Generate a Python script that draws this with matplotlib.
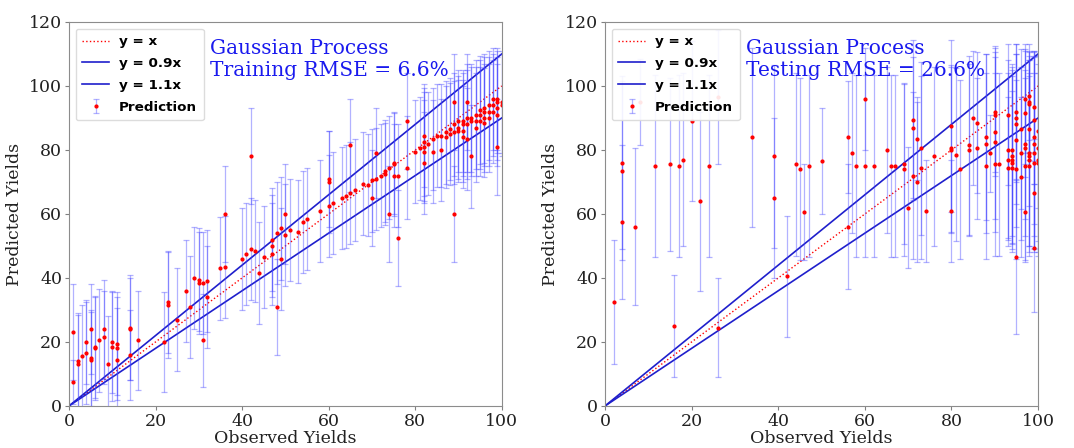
import matplotlib
matplotlib.use("Agg")
import matplotlib.pyplot as plt
import numpy as np

# ---------------- data (one line per observed-yield group) ----------------
train_x = [1, 1,  2, 2,  3,  4, 4,  5, 5, 5,  6, 6,  7,  8, 8,  9,  10, 10,
           11, 11, 11,  14, 14, 14,  16,  22,  23, 23,  25,  27,  28,  29,
           30, 30,  31, 31,  32, 32,  35,  36, 36,  40,  41,  42, 42,  43,  44,
           45,  47, 47, 47,  48, 48,  49, 49,  50, 50,  51,  53,  54,  55,  58,
           60, 60, 60,  61,  63,  64,  65, 65,  66,  68,  69,  70, 70,  71, 71,
           72,  73, 73,  74, 74,  75, 75, 75,  76, 76,  78, 78,  80,  81,
           82, 82, 82, 82, 82,  83,  84, 84,  85,  86, 86,  87, 87,  88, 88,
           89, 89, 89, 89,  90, 90, 90,  91, 91, 91, 91,  92, 92, 92, 92,
           93, 93, 93,  94, 94, 94,  95, 95, 95,  96, 96, 96, 96,  97, 97, 97,
           98, 98, 98,  99, 99, 99, 99, 99,  100, 100]
train_y = [23, 7.5,  14, 13,  15.5,  20, 16.5,  24, 15, 14.5,  18.5, 18,  20.5,
           24, 21.5,  13,  20, 18.5,
           19.5, 18, 14.5,  24.5, 24, 16,  20.5,  20,  32.5, 31.5,  27,  36,  31,
           40,
           39.5, 38.5,  38.5, 20.5,  39, 34,  43,  60, 43.5,  46,  47.5,  78, 49,
           48.5,  41.5,
           46.5,  52, 50, 47.5,  54, 31,  55.5, 46,  60, 53.5,  55,  54.5,  57.5,
           58.5,  61,
           71, 70, 62.5,  63.5,  65,  65.5,  81.5, 66.5,  67.5,  69.5,  69,
           70.5, 65,  79, 71,
           72,  73.5, 72.5,  74.5, 60,  76, 75.5, 72,  72, 52.5,  89, 74.5,
           79.5,  80.5,
           84.5, 82.5, 81, 79.5, 76,  82,  83.5, 79.5,  84.5,  84.5, 80,
           85.5, 84,  86.5, 85,
           95, 88, 85.5, 60,  89, 87, 86,  89, 88, 86, 84,  95, 90, 88, 83.5,
           90, 89, 78,  91, 89, 87,  92.5, 91, 89,  93, 92, 90, 88.5,  94, 92, 90,
           96, 94, 92,  96, 95, 93, 91, 81,  95, 94]
train_err = [15, 7,  15, 15.5,  16,  13, 16,  14, 15, 15,  16, 16,  16,
             15.5, 14.5,  15,  16, 17,
             16, 16, 16,  16.5, 16, 14,  15.5,  15.5,  16, 16.5,  16,  16,  16,
             16,
             16, 16,  16, 14.5,  16, 16,  16,  15, 16,  16,  16,  15, 16,
             16,  16,
             16,  16, 16, 16,  16, 15,  16, 16,  15.5, 16,  16,  16,  16,
             16,  16,
             15, 16, 16,  16,  16,  16,  14.5, 16,  16,  16,  16,
             16, 15,  14, 16,
             16,  16, 16,  16, 15,  16, 16, 16,  16, 15,  15, 16,
             16,  16,
             16, 17, 17, 16, 16,  16,  16, 16,  16,  16, 16,
             16, 16,  16, 16,
             15, 16, 16, 15,  16, 16, 16,  16, 16, 16, 16,  15, 17, 17, 16,
             17, 17, 16,  17, 17, 17,  17, 17, 17,  17, 17, 17, 17,  17, 17, 17,
             16, 16, 16,  16, 16, 16, 16, 15,  16, 16]

test_x = [2,  4, 4, 4,  7,  8,  11.5,  15,  16,  17,  18,  20,  22,  24,
          26, 26,  34,  39, 39,  42,  44,  45,  46,  47,  50,  56, 56,  57,  58,
          60, 60,  62,  65,  66,  67,  69, 69,  70,  71, 71, 71,  72, 72,
          73, 73,  74,  76,  80, 80, 80, 80,  81,  82,  84, 84,  85,  86, 86,
          88, 88, 88,  89,  90, 90, 90, 90, 90,  91,  93, 93, 93, 93,
          94, 94, 94, 94, 94,  95, 95, 95, 95, 95, 95,  96, 96, 96,
          97, 97, 97, 97, 97, 97,  98, 98, 98, 98, 98, 98, 98, 98,
          99, 99, 99, 99, 99, 99, 99, 99,  100, 100, 100, 100]
test_y = [32.5,  76, 73.5, 57.5,  56,  95,  75,  75.5,  25,  75,  77,  89,  64,
          75,
          96.5, 24.5,  84,  78, 65,  40.5,  75.5,  74,  60.5,  75,  76.5,
          84, 56,  79,  75,
          96, 75,  75,  80,  75,  75,  75.5, 74,  62,  89.5, 87, 72,  83.5, 70,
          80.5, 74.5,  61,  78,  87.5, 80.5, 80, 61,  78.5,  74,  81.5, 80,  90,
          88.5, 80.5,
          84, 82, 75,  79,  92, 91, 85.5, 82.5, 75.5,  75.5,  91, 80, 77, 74.5,
          80, 78, 77, 76, 74.5,  92, 90, 88, 83, 74, 46.5,  86.5, 79, 71.5,
          96, 91.5, 82, 80.5, 75, 60.5,  97, 95, 94.5, 86.5, 79, 78, 77, 75,
          93.5, 89.5, 84, 82, 79, 76, 66.5, 49.5,  86, 80.5, 77, 76]
test_err = [19.5,  27, 28, 24,  24.5,  13.5,  28.5,  27,  16,  28.5,  27,  25,
            28,  28.5,
            21, 15.5,  28,  28.5, 25,  19,  28.5,  28.5,  15,  28.5,  16.5,
            17.5, 19.5,  25,  28.5,
            16, 28.5,  28.5,  26,  28.5,  28.5,  25, 27,  19,  25, 22, 26,  13, 25,
            27, 28.5,  16,  28,  27, 26, 26, 16,  27,  28,  28, 27,  21,
            22, 22,
            26, 28, 29,  12,  20, 18, 27, 28, 28.5,  28.5,  22, 28, 27, 22,
            27, 27, 29, 27, 24,  21, 20, 25, 27, 28, 24,  25, 27, 25,
            17, 20, 29, 22, 30, 15,  14, 18, 15, 24, 29, 30, 27, 28,
            17, 20, 27, 29, 30, 28, 17, 20,  24, 29, 30, 28]

ref_line_x = [0, 100]
panels = [
    ("Training RMSE = 6.6%", train_x, train_y, train_err),
    ("Testing RMSE = 26.6%", test_x, test_y, test_err),
]

# ---------------- figure ----------------
fig = plt.figure(figsize=(10.74, 4.48), dpi=100)
axes_pos = [[0.0642, 0.0938, 0.4030, 0.8572],
            [0.5633, 0.0938, 0.4033, 0.8572]]

for pos, (label, xs, ys, errs) in zip(axes_pos, panels):
    n = min(len(xs), len(ys), len(errs))
    ax = fig.add_axes(pos)
    lx = np.array(ref_line_x, dtype=float)
    ax.plot(lx, lx, color="red", ls=":", lw=1.0, label="y = x")
    ax.plot(lx, 0.9 * lx, color="#1f1fcc", lw=1.2, label="y = 0.9x")
    ax.plot(lx, 1.1 * lx, color="#1f1fcc", lw=1.2, label="y = 1.1x")
    ax.errorbar(xs[:n], ys[:n], yerr=errs[:n], fmt="o", color="red", ms=2.0,
                ecolor=(0.25, 0.25, 1.0, 0.4), elinewidth=0.9, capsize=2.5,
                capthick=0.9, label="Prediction")
    ax.set_xlim(0, 100)
    ax.set_ylim(0, 120)
    ax.set_xticks([0, 20, 40, 60, 80, 100])
    ax.set_yticks([0, 20, 40, 60, 80, 100, 120])
    for lab in ax.get_xticklabels() + ax.get_yticklabels():
        lab.set_fontfamily("DejaVu Serif")
        lab.set_fontsize(12.5)
        lab.set_color("#222222")
    ax.tick_params(length=3, color="0.5", pad=2)
    for sp in ax.spines.values():
        sp.set_color("0.55")
    ax.set_xlabel("Observed Yields", family="DejaVu Serif", fontsize=12.5,
                  color="#222222", labelpad=0)
    ax.set_ylabel("Predicted Yields", family="DejaVu Serif", fontsize=12.5,
                  color="#222222", labelpad=4)
    ax.text(32.5, 114.8, "Gaussian Process\n" + label, family="DejaVu Serif",
            fontsize=14.5, color="#1a1aee", va="top", ha="left",
            linespacing=1.2)
    leg = ax.legend(loc="upper left", prop={"weight": "bold", "size": 9.7},
                    labelspacing=0.65, handlelength=2.0, handletextpad=0.7,
                    borderpad=0.5, framealpha=0.9)
    leg.get_frame().set_edgecolor("0.85")

fig.savefig("out.png", dpi=100)
